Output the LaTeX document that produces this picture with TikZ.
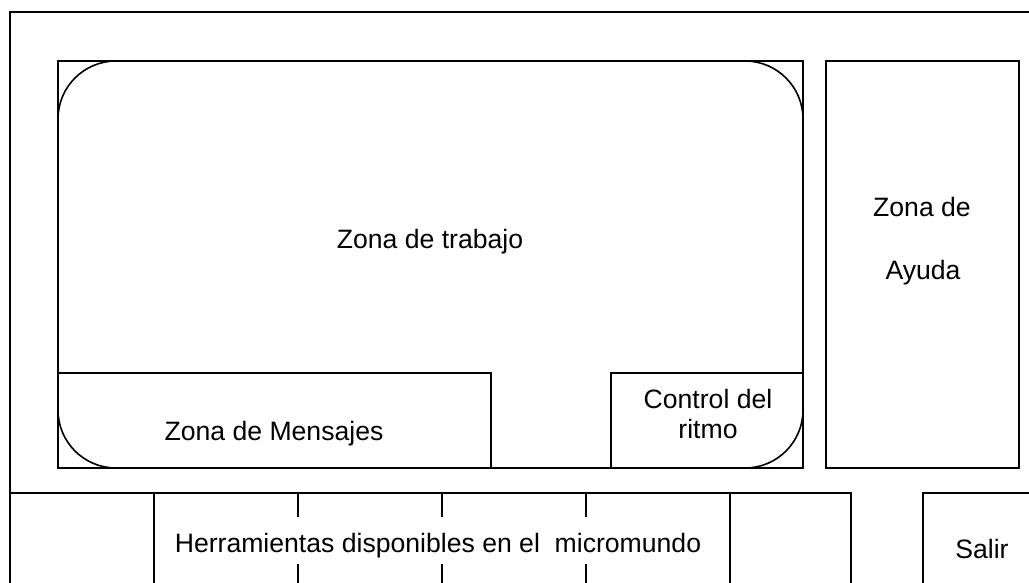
\documentclass[tikz,border=0pt]{standalone}
\usepackage{fontspec}
\setmainfont{Liberation Sans}
\begin{document}
\begin{tikzpicture}[x=1pt,y=-1pt,
  ln/.style={draw=black,line width=1.6pt},
  lbl/.style={font=\fontsize{26.6}{30}\selectfont,inner sep=0pt,anchor=base}]
\useasboundingbox (0,0) rectangle (1029,583);
% outer frame
\coordinate (otr) at (1029,12);
\coordinate (otl) at (10,12);
\coordinate (obl) at (10,583);
\draw[ln] (otr) -- (otl) -- (obl);
% work area
\coordinate (wtl) at (58,61);
\coordinate (wbr) at (803,468);
\draw[ln] (wtl) rectangle (wbr);
\draw[ln,rounded corners=58pt] (wtl) rectangle (wbr);
\node[lbl] (trabajo) at (430,248) {Zona de trabajo};
% messages
\coordinate (mtl) at (58,373);
\coordinate (mbr) at (491,468);
\draw[ln] (mtl) rectangle (mbr);
\node[lbl] (mensajes) at (274,440) {Zona de Mensajes};
% control
\coordinate (ctl) at (611,373);
\draw[ln] (ctl) rectangle (wbr);
\node[lbl] (control1) at (708,408) {Control del};
\node[lbl] (control2) at (708,438) {ritmo};
% help
\coordinate (atl) at (826,61);
\coordinate (abr) at (1019,468);
\draw[ln] (atl) rectangle (abr);
\node[lbl] (ayuda1) at (922,217) {Zona de};
\node[lbl] (ayuda2) at (923,279) {Ayuda};
% bottom tools row
\coordinate (bl) at (10,493);
\coordinate (br) at (851,493);
\draw[ln] (bl) -- (br) -- (851,583);
\draw[ln] (154,493) -- (154,583);
\draw[ln] (730,493) -- (730,583);
\foreach \xx in {298,442,586}{
  \draw[ln] (\xx,493) -- (\xx,517);
  \draw[ln] (\xx,564) -- (\xx,583);
}
\node[lbl] (herr) at (438,552) {Herramientas disponibles en el\ \ micromundo};
% exit
\coordinate (str) at (1029,493);
\draw[ln] (str) -- (923,493) -- (923,583);
\node[lbl] (salir) at (982,558) {Salir};
\end{tikzpicture}
\end{document}
